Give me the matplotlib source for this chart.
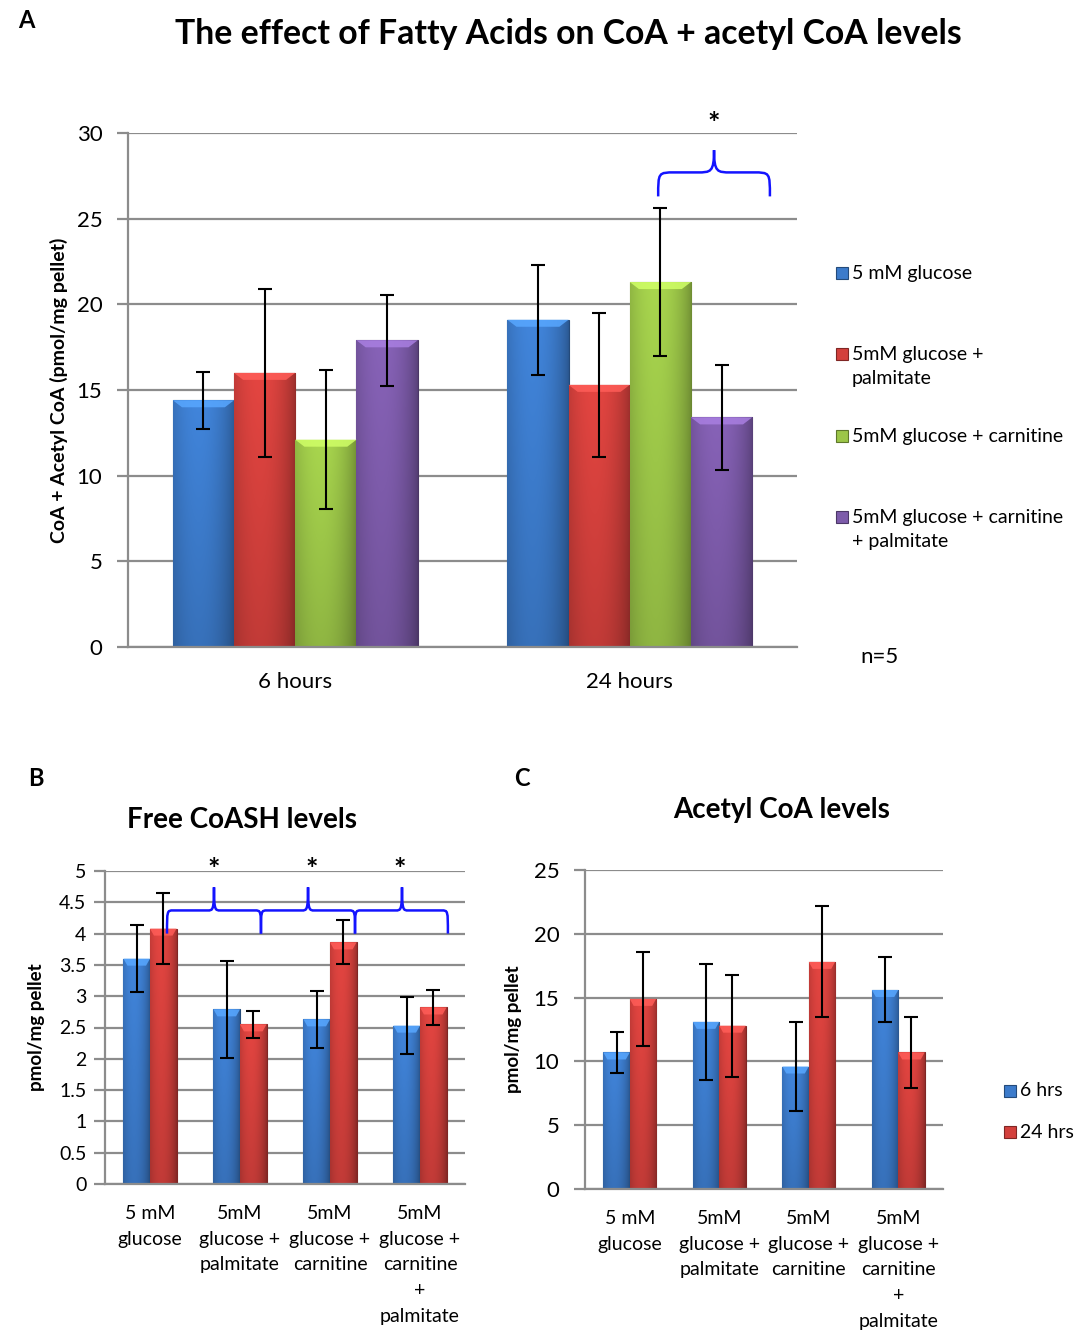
import matplotlib
matplotlib.use("Agg")
import matplotlib.pyplot as plt
import matplotlib.colors as mcolors
from matplotlib.path import Path
from matplotlib.patches import PathPatch, Rectangle, Polygon
import numpy as np

plt.rcParams['font.family'] = ['Lato', 'DejaVu Sans']

# ---- data ----
a_groups = ["6 hours", "24 hours"]
a_series = ["5 mM glucose", "5mM glucose +\npalmitate", "5mM glucose + carnitine",
            "5mM glucose + carnitine\n+ palmitate"]
a_vals = [[14.4, 19.1], [16.0, 15.3], [12.1, 21.3], [17.9, 13.4]]
a_errs = [[1.65, 3.2], [4.9, 4.2], [4.05, 4.3], [2.65, 3.05]]

bc_groups = ["5 mM\nglucose", "5mM\nglucose +\npalmitate", "5mM\nglucose +\ncarnitine",
             "5mM\nglucose +\ncarnitine\n+\npalmitate"]
bc_series = ["6 hrs", "24 hrs"]
b_vals = [[3.60, 2.79, 2.63, 2.53], [4.08, 2.55, 3.86, 2.82]]
b_errs = [[0.54, 0.78, 0.45, 0.45], [0.57, 0.22, 0.35, 0.28]]
c_vals = [[10.7, 13.1, 9.6, 15.6], [14.9, 12.8, 17.8, 10.7]]
c_errs = [[1.6, 4.55, 3.45, 2.55], [3.7, 4.0, 4.35, 2.8]]

colors = ['#3C7BCB', '#D3403C', '#9CC648', '#7D5BAA']
grid_c = '#8c8c8c'
brace_c = '#1414ff'


def dark(c, k=0.6):
    return mcolors.to_hex(np.array(mcolors.to_rgb(c)) * k)


def shade(ax, bars, color, ax_px_h):
    rgb = np.array(mcolors.to_rgb(color))
    t = np.linspace(0, 1, 64)
    f = 0.72 + 0.36 * np.sin(np.pi * (0.15 + 0.85 * t)) ** 0.7
    v = np.linspace(0.85, 1.0, 64)
    img = np.clip(rgb[None, None, :] * f[None, :, None] * v[:, None, None], 0, 1)
    ymax = ax.get_ylim()[1]
    bh = 7.0 / ax_px_h * ymax
    for b in bars:
        x, y = b.get_xy()
        w, h = b.get_width(), b.get_height()
        im = ax.imshow(img, extent=(x, x + w, y, y + h), aspect='auto',
                       zorder=2.1, interpolation='bilinear', origin='lower')
        im.set_clip_path(b)
        bev = Polygon([(x, y + h), (x + w, y + h), (x + w * 0.85, y + h - bh), (x + w * 0.15, y + h - bh)],
                      closed=True, facecolor=np.clip(rgb * 1.25 + 0.05, 0, 1), edgecolor='none',
                      zorder=2.2, alpha=0.85)
        ax.add_patch(bev)


def style(ax, ymax, step, tick_fs, pad):
    ax.set_ylim(0, ymax)
    ax.set_yticks(np.arange(0, ymax + step / 2, step))
    ax.set_axisbelow(True)
    ax.yaxis.grid(True, color=grid_c, lw=1.6)
    for s in ['top', 'right']:
        ax.spines[s].set_visible(False)
    ax.spines['left'].set_color(grid_c)
    ax.spines['left'].set_linewidth(1.6)
    ax.spines['bottom'].set_color(grid_c)
    ax.spines['bottom'].set_linewidth(1.6)
    ax.tick_params(axis='y', length=8, width=1.6, color=grid_c, labelsize=tick_fs, pad=pad)
    ax.tick_params(axis='x', length=0)


def brace(ax, x0, x1, xc, y_end, y_mid, y_peak, dx):
    verts = [(x0, y_end),
             (x0, y_mid), (x0, y_mid), (x0 + dx, y_mid),
             (xc - dx, y_mid),
             (xc - dx * 0.2, y_mid), (xc, y_mid), (xc, y_peak),
             (xc, y_mid), (xc + dx * 0.2, y_mid), (xc + dx, y_mid),
             (x1 - dx, y_mid),
             (x1, y_mid), (x1, y_mid), (x1, y_end)]
    codes = [Path.MOVETO, Path.CURVE4, Path.CURVE4, Path.CURVE4, Path.LINETO,
             Path.CURVE4, Path.CURVE4, Path.CURVE4, Path.CURVE4, Path.CURVE4, Path.CURVE4,
             Path.LINETO, Path.CURVE4, Path.CURVE4, Path.CURVE4]
    ax.add_patch(PathPatch(Path(verts, codes), fill=False, edgecolor=brace_c, lw=1.8,
                           clip_on=False, zorder=5))


fig = plt.figure(figsize=(10.76, 13.33), dpi=100)
W, H = 1076, 1333


def axes_px(l, t, r, b):
    return fig.add_axes([l / W, 1 - b / H, (r - l) / W, (b - t) / H])


# ---- Panel A ----
axA = axes_px(128, 133, 797, 647)
style(axA, 30, 5, 16, 10.5)
x = np.arange(len(a_groups))
w = 0.183
for i in range(4):
    bars = axA.bar(x + (i - 1.5) * w, a_vals[i], w, color=colors[i], zorder=2,
                   edgecolor=dark(colors[i]), lw=0.8)
    shade(axA, bars, colors[i], 514)
    axA.errorbar(x + (i - 1.5) * w, a_vals[i], yerr=a_errs[i], fmt='none', ecolor='black',
                 elinewidth=1.5, capsize=5, capthick=1.5, zorder=4)
axA.set_ylim(0, 30)
axA.set_xlim(-0.5, 1.5)
axA.set_xticks(x)
axA.set_xticklabels(a_groups, fontsize=16)
axA.tick_params(axis='x', pad=18)
axA.set_ylabel("CoA + Acetyl CoA (pmol/mg pellet)", fontsize=14, fontweight='bold', labelpad=6)
brace(axA, 1.085, 1.419, 1.252, 26.3, 27.7, 29.0, 0.05)
axA.text(1.252, 30.5, "*", ha='center', va='center', fontsize=21, fontweight='bold', clip_on=False)

fig.text(18 / W, 1 - 20 / H, "A", fontsize=17, fontweight='bold', va='center')
fig.text(568 / W, 1 - 34 / H, "The effect of Fatty Acids on CoA + acetyl CoA levels",
         fontsize=24.3, fontweight='bold', ha='center', va='center')
fig.text(880 / W, 1 - 657 / H, "n=5", fontsize=16, ha='center', va='center')

# legend A
leg_y = [277, 358, 440, 521]
for i in range(4):
    fig.patches.append(Rectangle((836 / W, 1 - (leg_y[i] + 2) / H), 12 / W, 12 / H,
                                 transform=fig.transFigure, facecolor=colors[i],
                                 edgecolor=dark(colors[i]), lw=0.8))
    fig.text(852 / W, 1 - (leg_y[i] - 12) / H, a_series[i], fontsize=14, va='top',
             linespacing=1.5)

# ---- Panel B ----
xb = np.arange(len(bc_groups))
wb = 0.295
axB = axes_px(105, 871, 465, 1184)
style(axB, 5, 0.5, 14, 5.5)
for i in range(2):
    bars = axB.bar(xb + (i - 0.5) * wb, b_vals[i], wb, color=colors[i], zorder=2,
                   edgecolor=dark(colors[i]), lw=0.8)
    shade(axB, bars, colors[i], 313)
    axB.errorbar(xb + (i - 0.5) * wb, b_vals[i], yerr=b_errs[i], fmt='none', ecolor='black',
                 elinewidth=1.5, capsize=5, capthick=1.5, zorder=4)
axB.set_ylim(0, 5)
axB.set_yticks(np.arange(0, 5.01, 0.5))
axB.set_yticklabels(["0", "0.5", "1", "1.5", "2", "2.5", "3", "3.5", "4", "4.5", "5"])
axB.set_xlim(-0.5, 3.5)
axB.set_xticks(xb)
axB.set_xticklabels(bc_groups, fontsize=14, linespacing=1.62)
axB.tick_params(axis='x', pad=15)
axB.set_ylabel("pmol/mg pellet", fontsize=13.5, fontweight='bold', labelpad=10)
brace(axB, 0.189, 1.233, 0.711, 4.0, 4.37, 4.74, 0.07)
brace(axB, 1.233, 2.278, 1.756, 4.0, 4.37, 4.74, 0.07)
brace(axB, 2.278, 3.31, 2.80, 4.0, 4.37, 4.74, 0.07)
for xs in [0.711, 1.80, 2.78]:
    axB.text(xs, 5.02, "*", ha='center', va='center', fontsize=21, fontweight='bold', clip_on=False)

fig.text(36 / W, 1 - 778 / H, "B", fontsize=17, fontweight='bold', ha='center', va='center')
fig.text(242 / W, 1 - 820 / H, "Free CoASH levels", fontsize=20, fontweight='bold',
         ha='center', va='center')

# ---- Panel C ----
axC = axes_px(585, 870, 943, 1189)
style(axC, 25, 5, 16, 10.5)
for i in range(2):
    bars = axC.bar(xb + (i - 0.5) * wb, c_vals[i], wb, color=colors[i], zorder=2,
                   edgecolor=dark(colors[i]), lw=0.8)
    shade(axC, bars, colors[i], 319)
    axC.errorbar(xb + (i - 0.5) * wb, c_vals[i], yerr=c_errs[i], fmt='none', ecolor='black',
                 elinewidth=1.5, capsize=5, capthick=1.5, zorder=4)
axC.set_ylim(0, 25)
axC.set_xlim(-0.5, 3.5)
axC.set_xticks(xb)
axC.set_xticklabels(bc_groups, fontsize=14, linespacing=1.62)
axC.tick_params(axis='x', pad=15)
axC.set_ylabel("pmol/mg pellet", fontsize=13.5, fontweight='bold', labelpad=8)

fig.text(522 / W, 1 - 778 / H, "C", fontsize=17, fontweight='bold', ha='center', va='center')
fig.text(782 / W, 1 - 810 / H, "Acetyl CoA levels", fontsize=20, fontweight='bold',
         ha='center', va='center')

for i, yy in enumerate([1091, 1132]):
    fig.patches.append(Rectangle((1004 / W, 1 - (yy + 6) / H), 12 / W, 12 / H,
                                 transform=fig.transFigure, facecolor=colors[i],
                                 edgecolor=dark(colors[i]), lw=0.8))
    fig.text(1020 / W, 1 - yy / H, bc_series[i], fontsize=14, va='center')

fig.savefig("out.png", dpi=100)
